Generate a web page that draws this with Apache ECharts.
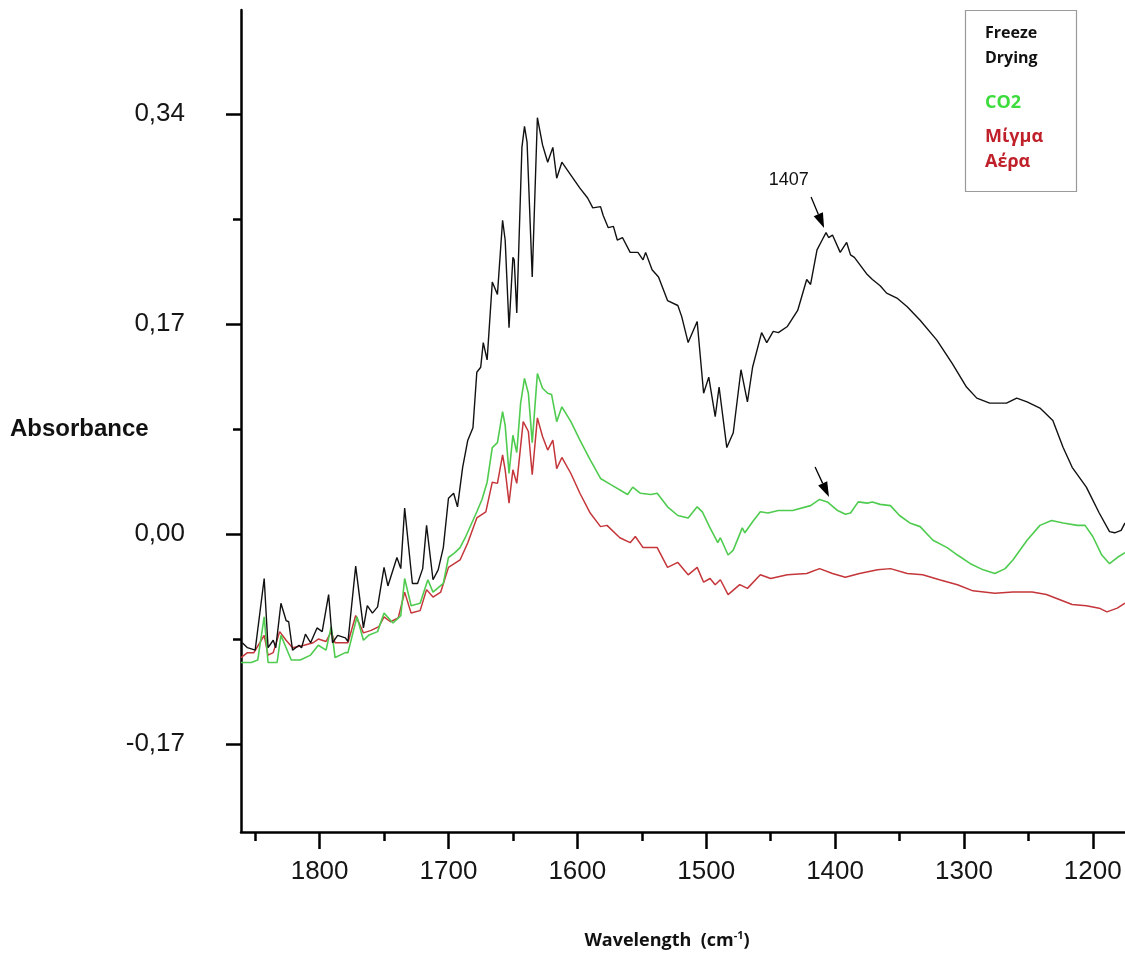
<!DOCTYPE html>
<html><head><meta charset="utf-8">
<script src="https://cdn.jsdelivr.net/npm/echarts@6/dist/echarts.min.js"></script>
<style>html,body{margin:0;padding:0;background:#fff}#c{width:1125px;height:968px}</style>
</head><body><div id="c"></div>
<script>
// ---- data: [wavenumber (cm-1), absorbance] ----
const freezeDrying = [[1860,-0.088],[1856,-0.092],[1850,-0.094],[1843,-0.036],[1840,-0.092],[1836,-0.086],[1834,-0.092],[1830,-0.056],[1826,-0.070],[1824,-0.071],[1821,-0.094],[1816,-0.090],[1814,-0.092],[1811,-0.081],[1807,-0.088],[1802,-0.076],[1798,-0.079],[1793,-0.049],[1790,-0.088],[1786,-0.082],[1780,-0.084],[1778,-0.087],[1772,-0.026],[1766,-0.076],[1763,-0.058],[1759,-0.064],[1755,-0.059],[1750,-0.027],[1747,-0.042],[1740,-0.019],[1737,-0.028],[1734,0.021],[1728,-0.040],[1724,-0.040],[1720,-0.028],[1717,0.007],[1712,-0.037],[1708,-0.029],[1704,-0.011],[1700,0.029],[1696,0.033],[1693,0.022],[1689,0.054],[1685,0.076],[1681,0.086],[1678,0.131],[1675,0.135],[1673,0.155],[1670,0.141],[1666,0.204],[1662,0.194],[1658,0.254],[1656,0.238],[1653,0.167],[1650,0.224],[1649,0.222],[1647,0.179],[1643,0.313],[1641,0.330],[1639,0.317],[1635,0.208],[1631,0.337],[1627,0.315],[1623,0.301],[1619,0.313],[1616,0.288],[1612,0.301],[1608,0.295],[1598,0.280],[1592,0.272],[1588,0.264],[1582,0.265],[1580,0.258],[1576,0.248],[1572,0.249],[1569,0.238],[1565,0.240],[1559,0.228],[1553,0.228],[1549,0.222],[1547,0.228],[1542,0.214],[1537,0.208],[1530,0.189],[1522,0.185],[1519,0.176],[1514,0.155],[1507,0.172],[1502,0.114],[1498,0.127],[1493,0.095],[1490,0.119],[1484,0.070],[1479,0.082],[1473,0.133],[1468,0.107],[1464,0.135],[1457,0.163],[1453,0.155],[1448,0.164],[1444,0.163],[1437,0.168],[1429,0.181],[1422,0.206],[1419,0.202],[1414,0.230],[1410,0.238],[1407,0.244],[1405,0.240],[1402,0.242],[1396,0.228],[1391,0.236],[1388,0.226],[1385,0.224],[1375,0.210],[1371,0.206],[1365,0.201],[1360,0.195],[1352,0.191],[1344,0.184],[1334,0.173],[1321,0.157],[1309,0.138],[1298,0.119],[1290,0.110],[1280,0.106],[1267,0.106],[1259,0.110],[1251,0.107],[1241,0.102],[1231,0.092],[1223,0.070],[1216,0.054],[1205,0.038],[1195,0.017],[1187,0.002],[1183,0.001],[1178,0.003],[1175,0.009]];

const co2 = [[1861,-0.104],[1853,-0.104],[1848,-0.102],[1843,-0.067],[1840,-0.104],[1833,-0.104],[1830,-0.082],[1826,-0.092],[1822,-0.102],[1815,-0.102],[1807,-0.098],[1801,-0.090],[1795,-0.094],[1791,-0.075],[1788,-0.100],[1780,-0.096],[1778,-0.096],[1771,-0.067],[1766,-0.086],[1762,-0.082],[1755,-0.079],[1750,-0.064],[1743,-0.072],[1737,-0.066],[1734,-0.036],[1729,-0.058],[1722,-0.056],[1716,-0.037],[1712,-0.047],[1704,-0.040],[1700,-0.019],[1695,-0.015],[1691,-0.011],[1687,-0.003],[1678,0.018],[1674,0.028],[1670,0.042],[1666,0.070],[1662,0.074],[1658,0.099],[1656,0.088],[1653,0.049],[1650,0.080],[1647,0.066],[1644,0.106],[1641,0.126],[1638,0.114],[1635,0.074],[1631,0.130],[1627,0.118],[1623,0.114],[1620,0.113],[1616,0.091],[1612,0.103],[1605,0.091],[1598,0.076],[1590,0.060],[1582,0.045],[1574,0.040],[1561,0.032],[1557,0.038],[1551,0.033],[1543,0.032],[1538,0.033],[1530,0.022],[1522,0.015],[1514,0.013],[1507,0.022],[1503,0.018],[1497,0.005],[1491,-0.007],[1489,-0.003],[1483,-0.017],[1479,-0.013],[1472,0.005],[1470,0.001],[1464,0.010],[1458,0.018],[1452,0.017],[1444,0.019],[1433,0.019],[1419,0.023],[1412,0.028],[1406,0.026],[1398,0.019],[1392,0.016],[1388,0.017],[1382,0.026],[1375,0.025],[1371,0.026],[1365,0.024],[1357,0.023],[1350,0.015],[1342,0.009],[1334,0.006],[1324,-0.005],[1313,-0.011],[1305,-0.017],[1295,-0.024],[1285,-0.029],[1276,-0.032],[1268,-0.028],[1262,-0.021],[1251,-0.005],[1241,0.007],[1232,0.011],[1223,0.009],[1212,0.007],[1206,0.007],[1200,-0.002],[1193,-0.017],[1187,-0.024],[1181,-0.019],[1175,-0.015]];

const airMix = [[1861,-0.100],[1856,-0.096],[1851,-0.096],[1843,-0.082],[1840,-0.098],[1836,-0.096],[1831,-0.079],[1826,-0.086],[1821,-0.092],[1812,-0.090],[1805,-0.088],[1801,-0.085],[1795,-0.087],[1791,-0.079],[1788,-0.088],[1778,-0.088],[1772,-0.066],[1766,-0.080],[1760,-0.078],[1754,-0.075],[1750,-0.067],[1745,-0.071],[1739,-0.068],[1734,-0.047],[1729,-0.064],[1722,-0.062],[1717,-0.045],[1712,-0.051],[1706,-0.047],[1700,-0.027],[1691,-0.021],[1685,-0.007],[1678,0.013],[1671,0.018],[1666,0.042],[1662,0.041],[1658,0.064],[1656,0.052],[1653,0.025],[1650,0.052],[1647,0.041],[1642,0.091],[1638,0.083],[1635,0.048],[1631,0.094],[1627,0.079],[1623,0.068],[1619,0.076],[1616,0.053],[1612,0.062],[1605,0.049],[1598,0.033],[1590,0.017],[1582,0.006],[1577,0.007],[1567,-0.003],[1559,-0.007],[1555,-0.002],[1549,-0.011],[1538,-0.011],[1530,-0.027],[1522,-0.023],[1514,-0.033],[1507,-0.027],[1502,-0.039],[1497,-0.036],[1493,-0.041],[1489,-0.037],[1483,-0.049],[1474,-0.041],[1468,-0.044],[1458,-0.033],[1450,-0.036],[1437,-0.033],[1422,-0.032],[1412,-0.028],[1402,-0.032],[1392,-0.035],[1381,-0.032],[1367,-0.029],[1357,-0.028],[1344,-0.032],[1332,-0.033],[1319,-0.037],[1305,-0.041],[1293,-0.046],[1276,-0.048],[1262,-0.047],[1247,-0.047],[1236,-0.049],[1226,-0.053],[1216,-0.057],[1205,-0.058],[1195,-0.060],[1189,-0.063],[1181,-0.060],[1175,-0.056]];

const xMajorTicks = [1800, 1700, 1600, 1500, 1400, 1300, 1200];
const xMinorTicks = [1850, 1750, 1650, 1550, 1450, 1350, 1250];
const yMajorTicks = [-0.17, 0, 0.17, 0.34];
const yMinorTicks = [-0.085, 0.085, 0.255];
const legendLabels = ['Freeze', 'Drying', 'CO2', 'Μίγμα', 'Αέρα'];
const peakLabel = '1407';

const chart = echarts.init(document.getElementById('c'), null, {renderer: 'canvas'});
const AX = '#000';
const F = 'Liberation Sans, Arial, sans-serif';
const xRange = {min: 1175, max: 1861};
const yRange = {min: -0.2412, max: 0.4242};

chart.setOption({
  animation: false,
  backgroundColor: '#fff',
  grid: {left: 241, right: 0, top: 10, bottom: 136, containLabel: false, outerBoundsMode: 'none'},
  xAxis: [
    {type: 'value', inverse: true, ...xRange, position: 'bottom',
      axisLine: {show: true, onZero: false, lineStyle: {color: AX, width: 2.5}},
      axisTick: {show: true, customValues: xMajorTicks, length: 17, lineStyle: {color: AX, width: 2.5}},
      axisLabel: {customValues: xMajorTicks, margin: 27, fontSize: 26, fontFamily: F, color: '#151515',
        formatter: v => String(Math.round(v))},
      splitLine: {show: false}},
    {type: 'value', inverse: true, ...xRange, position: 'bottom',
      axisLine: {show: false, onZero: false},
      axisTick: {show: true, customValues: xMinorTicks, length: 9, lineStyle: {color: AX, width: 2.5}},
      axisLabel: {show: false}, splitLine: {show: false}}
  ],
  yAxis: [
    {type: 'value', ...yRange, position: 'left',
      axisLine: {show: true, onZero: false, lineStyle: {color: AX, width: 2.5}},
      axisTick: {show: true, customValues: yMajorTicks, length: 15, lineStyle: {color: AX, width: 2.5}},
      axisLabel: {customValues: yMajorTicks, margin: 56, fontSize: 26, fontFamily: F, color: '#151515',
        formatter: v => v.toFixed(2).replace('.', ',')},
      splitLine: {show: false}},
    {type: 'value', ...yRange, position: 'left',
      axisLine: {show: false, onZero: false},
      axisTick: {show: true, customValues: yMinorTicks, length: 8, lineStyle: {color: AX, width: 2.5}},
      axisLabel: {show: false}, splitLine: {show: false}}
  ],
  series: [
    {name: 'Μίγμα Αέρα', type: 'line', data: airMix, showSymbol: false, lineStyle: {color: '#c4363a', width: 1.5}, z: 2},
    {name: 'CO2', type: 'line', data: co2, showSymbol: false, lineStyle: {color: '#4fcc4f', width: 1.6}, z: 3},
    {name: 'Freeze Drying', type: 'line', data: freezeDrying, showSymbol: false, lineStyle: {color: '#111', width: 1.4}, z: 4}
  ]
});

function px(p) { return chart.convertToPixel({xAxisIndex: 0, yAxisIndex: 0}, p); }
function arrow(from, to) {
  const a = px(from), b = px(to);
  const dx = b[0] - a[0], dy = b[1] - a[1];
  const L = Math.hypot(dx, dy), ux = dx / L, uy = dy / L;
  const hl = 15, hw = 5;
  const bx = b[0] - ux * hl, by = b[1] - uy * hl;
  return [
    {type: 'line', shape: {x1: a[0], y1: a[1], x2: bx, y2: by}, style: {stroke: '#000', lineWidth: 1.3}, z: 10},
    {type: 'polygon', shape: {points: [[b[0], b[1]], [bx - uy * hw, by + ux * hw], [bx + uy * hw, by - ux * hw]]}, style: {fill: '#000'}, z: 10}
  ];
}
const tp = px([1436, 0.2866]);
const graphics = [
  ...arrow([1418.6, 0.2728], [1408.5, 0.2477]),
  ...arrow([1415.5, 0.0542], [1404.7, 0.0300]),
  {type: 'text', x: tp[0], y: tp[1], style: {text: peakLabel, font: '18px ' + F, fill: '#111', align: 'center', verticalAlign: 'middle'}, z: 10},
  {type: 'text', left: 10, top: 417, style: {text: 'Absorbance', font: 'bold 24px ' + F, fill: '#111'}},
  {type: 'text', x: 667, y: 941, style: {
    text: '{t|Wavelength  (cm}{s|-1}{t|)}',
    rich: {t: {font: 'bold 18px "Open Sans", sans-serif', fill: '#111'}, s: {font: 'bold 11px "Open Sans", sans-serif', fill: '#111', verticalAlign: 'top', padding: [0, 0, 10, 0]}},
    align: 'center', verticalAlign: 'middle'}},
  {type: 'rect', shape: {x: 965.5, y: 10.5, width: 111, height: 181}, style: {fill: '#fff', stroke: '#9a9a9a', lineWidth: 1.2}, z: 20},
  {type: 'text', x: 985, y: 33, style: {text: legendLabels[0], font: 'bold 16px "Open Sans", sans-serif', fill: '#111', verticalAlign: 'middle'}, z: 21},
  {type: 'text', x: 985, y: 58, style: {text: legendLabels[1], font: 'bold 16px "Open Sans", sans-serif', fill: '#111', verticalAlign: 'middle'}, z: 21},
  {type: 'text', x: 985, y: 103, style: {text: legendLabels[2], font: 'bold 18px "Open Sans", sans-serif', fill: '#3ddc3d', verticalAlign: 'middle'}, z: 21},
  {type: 'text', x: 985, y: 137, style: {text: legendLabels[3], font: 'bold 18px "Open Sans", sans-serif', fill: '#c0202a', verticalAlign: 'middle'}, z: 21},
  {type: 'text', x: 985, y: 162, style: {text: legendLabels[4], font: 'bold 18px "Open Sans", sans-serif', fill: '#c0202a', verticalAlign: 'middle'}, z: 21}
];
chart.setOption({graphic: graphics});
</script>
</body></html>
